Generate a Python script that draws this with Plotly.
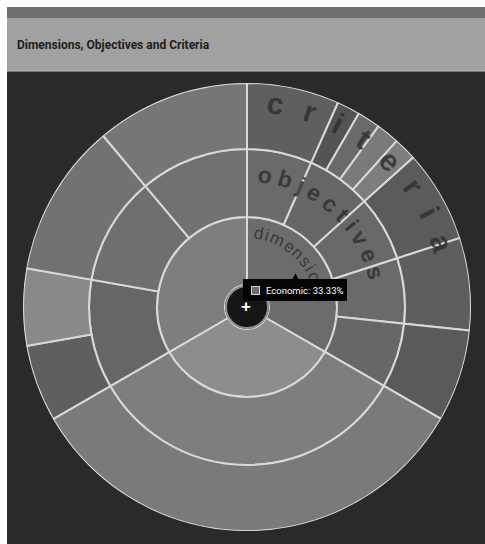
import math
import plotly.graph_objects as go

W, H = 485, 544

title_text = "Dimensions, Objectives and Criteria"

# ---- hierarchy: dimensions -> objectives -> criteria (shares in %) ----
# listed clockwise from 12 o'clock
dimensions = ["Economic", "Social", "Environmental"]
dimension_pct = [33.33, 33.33, 33.34]
dimension_colors = ["#6c6c6c", "#8d8d8d", "#7e7e7e"]

objectives = ["O1", "O2", "O3", "O4", "O5", "O6", "O7", "O8", "O9"]
objective_parent = ["Economic", "Economic", "Economic", "Economic", "Economic",
                    "Social", "Environmental", "Environmental", "Environmental"]
objective_pct = [6.67, 6.67, 6.67, 6.67, 6.65, 33.33, 11.11, 11.11, 11.12]
objective_colors = ["#6a6a6a", "#666666", "#686868", "#6a6a6a", "#676767",
                    "#7e7e7e", "#666666", "#6f6f6f", "#717171"]

criteria = ["C1", "C2", "C3", "C4", "C5", "C6", "C7", "C8",
            "C9", "C10", "C11", "C12", "C13"]
criteria_parent = ["O1", "O2", "O2", "O2", "O2", "O3", "O4", "O5",
                   "O6", "O7", "O7", "O8", "O9"]
criteria_pct = [6.67, 1.67, 1.67, 1.67, 1.66, 6.67, 6.67, 6.65,
                33.33, 5.56, 5.55, 11.11, 11.12]
criteria_colors = ["#5f5f5f", "#545454", "#6a6a6a", "#7a7a7a", "#7e7e7e",
                   "#5b5b5b", "#5e5e5e", "#5a5a5a",
                   "#7a7a7a", "#5f5f5f", "#898989", "#727272", "#767676"]

tooltip_label = "Economic"
tooltip_value = dimension_pct[0]

ring_labels = ["dimensions", "objectives", "criteria"]

# ---- geometry (pixels) ----
CX, CY, R = 247, 307, 224
ring_edges = [22, 90, 158, 224]
EDGE = "#d9d9d9"

# approximate Arial advance widths (em) used to space letters along an arc
GLYPH_W = {"a": .556, "b": .611, "c": .556, "d": .556, "e": .556, "i": .25,
           "j": .278, "m": .833, "n": .556, "o": .58, "r": .389, "s": .53,
           "t": .333, "v": .556}


def px(x):
    return x / W


def py(y):
    return 1 - y / H


def ring_trace(names, pct, colors, level):
    widths = [p * 3.6 for p in pct]
    thetas, start = [], 0.0
    for w in widths:
        thetas.append(start + w / 2)
        start += w
    inner, outer = ring_edges[level], ring_edges[level + 1]
    return go.Barpolar(
        r=[outer - inner] * len(pct),
        base=[inner] * len(pct),
        theta=thetas,
        width=widths,
        text=names,
        customdata=pct,
        marker=dict(color=colors, line=dict(color=EDGE, width=2)),
        hovertemplate="%{text}: %{customdata:.2f}%<extra></extra>",
        showlegend=False,
    )


fig = go.Figure()
fig.add_trace(ring_trace(dimensions, dimension_pct, dimension_colors, 0))
fig.add_trace(ring_trace(objectives, objective_pct, objective_colors, 1))
fig.add_trace(ring_trace(criteria, criteria_pct, criteria_colors, 2))

shapes = [
    # page frame
    dict(type="rect", xref="paper", yref="paper", x0=px(7), x1=1, y0=py(7), y1=py(18),
         fillcolor="#6f6f6f", line_width=0, layer="below"),
    dict(type="rect", xref="paper", yref="paper", x0=px(7), x1=1, y0=py(18), y1=py(71),
         fillcolor="#a1a1a1", line_width=0, layer="below"),
    dict(type="rect", xref="paper", yref="paper", x0=px(7), x1=1, y0=py(71), y1=0,
         fillcolor="#2a2a2a", line_width=0, layer="below"),
    dict(type="line", xref="paper", yref="paper", x0=px(7), x1=1, y0=py(71), y1=py(71),
         line=dict(color="#bdbdbd", width=1), layer="below"),
    # centre button
    dict(type="circle", xref="paper", yref="paper",
         x0=px(CX - 21), x1=px(CX + 21), y0=py(CY + 21), y1=py(CY - 21),
         fillcolor="#161616", line=dict(color="#8f8f8f", width=2), layer="above"),
]

annotations = [
    dict(text="<b>" + title_text + "</b>", x=px(15), y=py(45), xref="paper", yref="paper",
         xanchor="left", yanchor="middle", showarrow=False,
         font=dict(family="Roboto", size=12, color="#1e1e1e")),
    dict(text="<b>+</b>", x=px(CX - 1), y=py(CY - 1), xref="paper", yref="paper",
         xanchor="center", yanchor="middle", showarrow=False,
         font=dict(family="Arial", size=17, color="#ffffff")),
]

# curved ring titles, one letter at a time along each ring
ring_text_style = [
    # (radius, first angle, font size, letter spacing, bold)
    (74, 9.0, 17, 1.8, False),
    (133, 7.8, 23, 6.5, True),
    (205, 8.0, 30, 21.0, True),
]
for word, (rad, a0, size, spacing, bold) in zip(ring_labels, ring_text_style):
    arc = 0.0
    for i, ch in enumerate(word):
        if i:
            arc += (GLYPH_W[word[i - 1]] + GLYPH_W[ch]) / 2 * size + spacing
        a = a0 + math.degrees(arc / rad)
        x = CX + rad * math.sin(math.radians(a))
        y = CY - rad * math.cos(math.radians(a))
        annotations.append(dict(
            text=("<b>%s</b>" % ch) if bold else ch,
            x=px(x), y=py(y), xref="paper", yref="paper",
            xanchor="center", yanchor="middle", showarrow=False, textangle=a,
            font=dict(family="Arial", size=size, color="rgba(48,48,48,0.85)"),
        ))

# tooltip for the Economic dimension
annotations += [
    dict(text="\u25b2", x=px(295), y=py(276), xref="paper", yref="paper",
         xanchor="center", yanchor="middle", showarrow=False,
         font=dict(family="DejaVu Sans", size=9, color="#050505")),
    dict(text="&nbsp;", x=px(243), y=py(290), xref="paper", yref="paper",
         xanchor="left", yanchor="middle", showarrow=False, width=104, height=22,
         bgcolor="#050505", borderpad=0, borderwidth=0,
         font=dict(size=10, color="#050505")),
    dict(text="&nbsp;", x=px(255), y=py(290.5), xref="paper", yref="paper",
         xanchor="center", yanchor="middle", showarrow=False, width=7, height=7,
         bgcolor=dimension_colors[0], bordercolor="#cfcfcf", borderwidth=1, borderpad=0,
         font=dict(size=4, color=dimension_colors[0])),
    dict(text="%s: %.2f%%" % (tooltip_label, tooltip_value), x=px(264), y=py(290.5),
         xref="paper", yref="paper", xanchor="left", yanchor="middle", showarrow=False,
         font=dict(family="Roboto", size=9.5, color="#ffffff")),
]

fig.update_layout(
    width=W, height=H,
    margin=dict(l=0, r=0, t=0, b=0),
    paper_bgcolor="#ffffff",
    plot_bgcolor="rgba(0,0,0,0)",
    polar=dict(
        domain=dict(x=[px(CX - R), px(CX + R)], y=[py(CY + R), py(CY - R)]),
        bgcolor="rgba(0,0,0,0)",
        hole=ring_edges[0] / R,
        bargap=0,
        radialaxis=dict(range=[ring_edges[0], R], visible=False, showgrid=False),
        angularaxis=dict(rotation=90, direction="clockwise", visible=False,
                         showgrid=False),
    ),
    shapes=shapes,
    annotations=annotations,
)

fig.write_html("out.html")
